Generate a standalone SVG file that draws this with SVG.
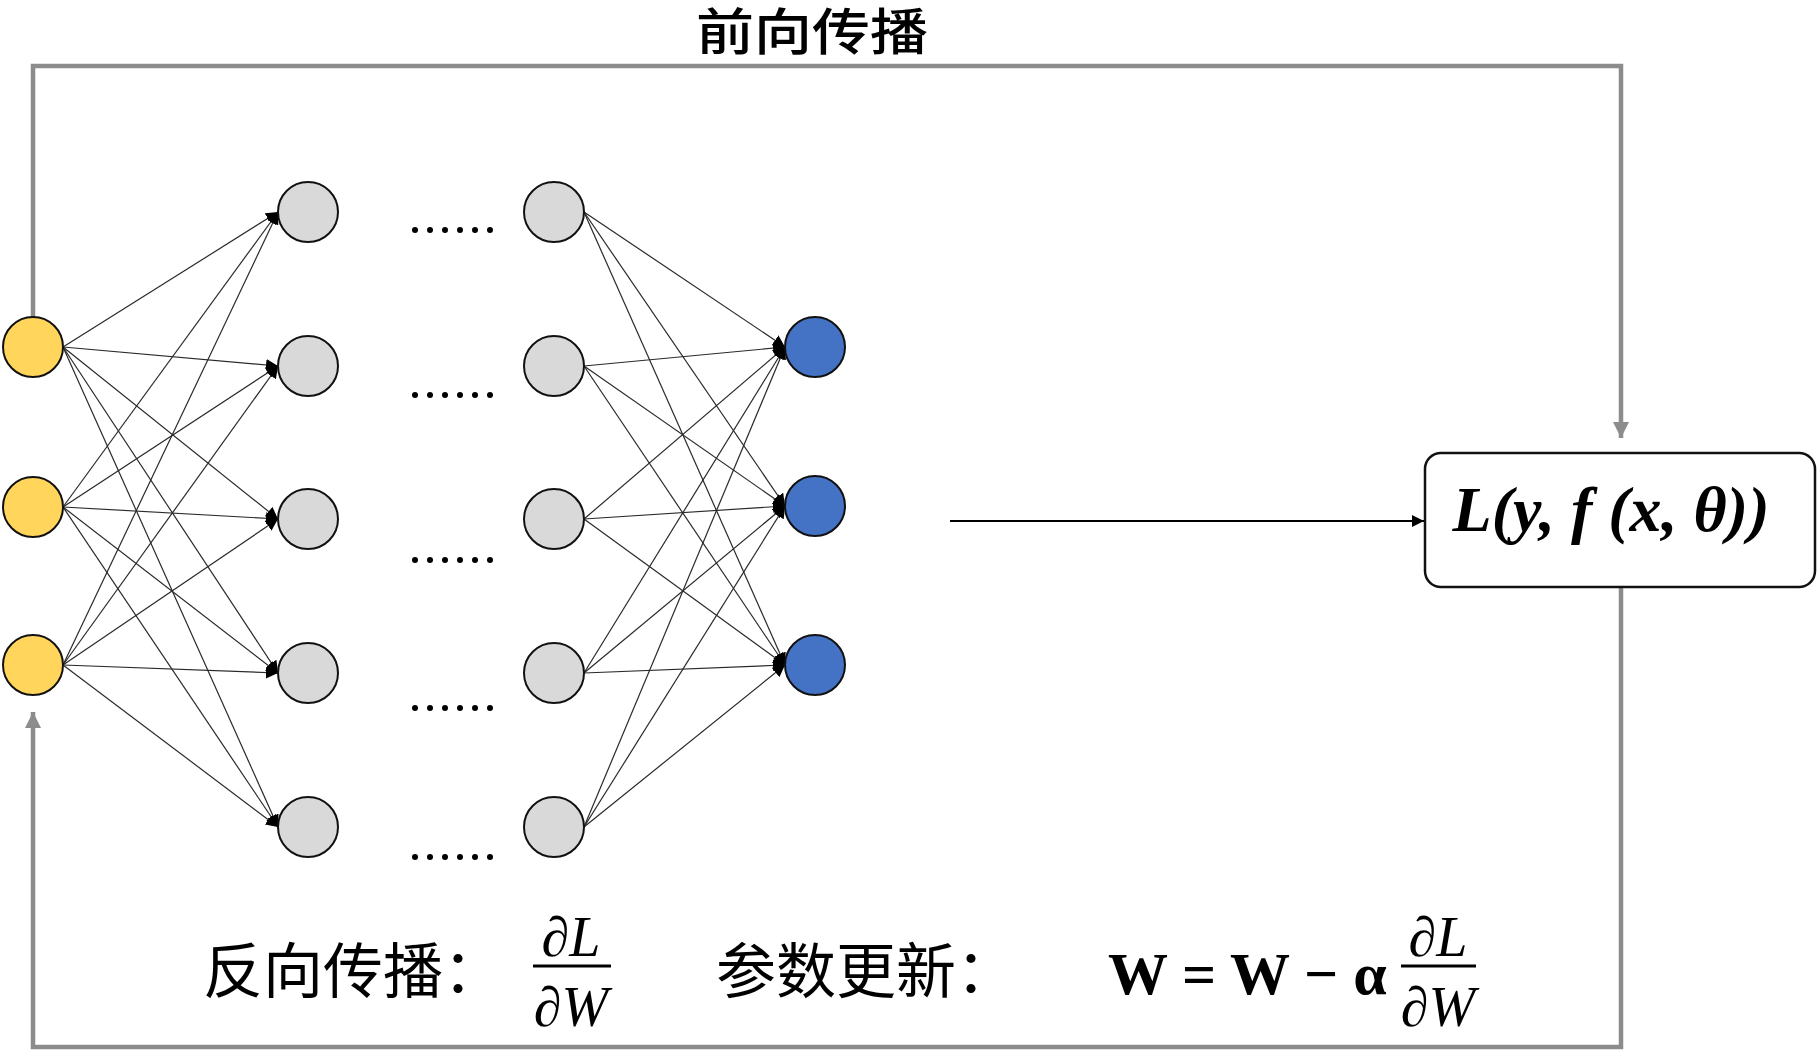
<svg xmlns="http://www.w3.org/2000/svg" width="1819" height="1052" viewBox="0 0 1819 1052">
<style>
.y{fill:#FFD65B;stroke:#111;stroke-width:2}
.g{fill:#D9D9D9;stroke:#111;stroke-width:2}
.b{fill:#4472C4;stroke:#111;stroke-width:2}
.e{stroke:#2a2a2a;stroke-width:1.2;fill:none;marker-end:url(#ah)}
.fr{stroke:#8C8C8C;stroke-width:4.5;fill:none}
.cjk{font-family:"Noto Sans CJK SC","Noto Sans",sans-serif;fill:#000}
.m{font-family:"Liberation Serif",serif;fill:#000}
.dot{fill:#000}
</style>
<defs>
<marker id="ah" markerUnits="userSpaceOnUse" markerWidth="14" markerHeight="12" refX="12" refY="6" orient="auto"><path d="M0,0 L12,6 L0,12 z" fill="#000"/></marker>
<marker id="ahg" markerUnits="userSpaceOnUse" markerWidth="18" markerHeight="16" refX="16" refY="8" orient="auto"><path d="M0,0 L16,8 L0,16 z" fill="#8C8C8C"/></marker>
<marker id="ahk" markerUnits="userSpaceOnUse" markerWidth="14" markerHeight="12" refX="12" refY="6" orient="auto"><path d="M0,0 L12,6 L0,12 z" fill="#000"/></marker>
</defs>
<g id="connectors">
<path class="fr" d="M33,317 V66 H1621 V438" marker-end="url(#ahg)"/>
<path class="fr" d="M1621,588 V1047 H33 V712" marker-end="url(#ahg)"/>
<path d="M950,521 H1424" stroke="#000" stroke-width="2" fill="none" marker-end="url(#ahk)"/>
<g id="edges-in">
<path class="e" d="M63,347 L278,212"/><path class="e" d="M63,347 L278,366"/><path class="e" d="M63,347 L278,519"/><path class="e" d="M63,347 L278,673"/><path class="e" d="M63,347 L278,827"/>
<path class="e" d="M63,507 L278,212"/><path class="e" d="M63,507 L278,366"/><path class="e" d="M63,507 L278,519"/><path class="e" d="M63,507 L278,673"/><path class="e" d="M63,507 L278,827"/>
<path class="e" d="M63,665 L278,212"/><path class="e" d="M63,665 L278,366"/><path class="e" d="M63,665 L278,519"/><path class="e" d="M63,665 L278,673"/><path class="e" d="M63,665 L278,827"/>
</g>
<g id="edges-out">
<path class="e" d="M584,212 L785,347"/><path class="e" d="M584,212 L785,506"/><path class="e" d="M584,212 L785,665"/>
<path class="e" d="M584,366 L785,347"/><path class="e" d="M584,366 L785,506"/><path class="e" d="M584,366 L785,665"/>
<path class="e" d="M584,519 L785,347"/><path class="e" d="M584,519 L785,506"/><path class="e" d="M584,519 L785,665"/>
<path class="e" d="M584,673 L785,347"/><path class="e" d="M584,673 L785,506"/><path class="e" d="M584,673 L785,665"/>
<path class="e" d="M584,827 L785,347"/><path class="e" d="M584,827 L785,506"/><path class="e" d="M584,827 L785,665"/>
</g>
</g>
<g id="input-layer">
<circle id="x1" class="y" cx="33" cy="347" r="30"/>
<circle id="x2" class="y" cx="33" cy="507" r="30"/>
<circle id="x3" class="y" cx="33" cy="665" r="30"/>
</g>
<g id="hidden-layer-1">
<circle id="h11" class="g" cx="308" cy="212" r="30"/>
<circle id="h12" class="g" cx="308" cy="366" r="30"/>
<circle id="h13" class="g" cx="308" cy="519" r="30"/>
<circle id="h14" class="g" cx="308" cy="673" r="30"/>
<circle id="h15" class="g" cx="308" cy="827" r="30"/>
</g>
<g id="ellipsis">
<g id="dots1"><circle class="dot" cx="415" cy="230" r="3"/><circle class="dot" cx="430" cy="230" r="3"/><circle class="dot" cx="445" cy="230" r="3"/><circle class="dot" cx="460" cy="230" r="3"/><circle class="dot" cx="475" cy="230" r="3"/><circle class="dot" cx="490" cy="230" r="3"/></g>
<g id="dots2"><circle class="dot" cx="415" cy="395" r="3"/><circle class="dot" cx="430" cy="395" r="3"/><circle class="dot" cx="445" cy="395" r="3"/><circle class="dot" cx="460" cy="395" r="3"/><circle class="dot" cx="475" cy="395" r="3"/><circle class="dot" cx="490" cy="395" r="3"/></g>
<g id="dots3"><circle class="dot" cx="415" cy="560" r="3"/><circle class="dot" cx="430" cy="560" r="3"/><circle class="dot" cx="445" cy="560" r="3"/><circle class="dot" cx="460" cy="560" r="3"/><circle class="dot" cx="475" cy="560" r="3"/><circle class="dot" cx="490" cy="560" r="3"/></g>
<g id="dots4"><circle class="dot" cx="415" cy="708" r="3"/><circle class="dot" cx="430" cy="708" r="3"/><circle class="dot" cx="445" cy="708" r="3"/><circle class="dot" cx="460" cy="708" r="3"/><circle class="dot" cx="475" cy="708" r="3"/><circle class="dot" cx="490" cy="708" r="3"/></g>
<g id="dots5"><circle class="dot" cx="415" cy="857" r="3"/><circle class="dot" cx="430" cy="857" r="3"/><circle class="dot" cx="445" cy="857" r="3"/><circle class="dot" cx="460" cy="857" r="3"/><circle class="dot" cx="475" cy="857" r="3"/><circle class="dot" cx="490" cy="857" r="3"/></g>
</g>
<g id="hidden-layer-n">
<circle id="h21" class="g" cx="554" cy="212" r="30"/>
<circle id="h22" class="g" cx="554" cy="366" r="30"/>
<circle id="h23" class="g" cx="554" cy="519" r="30"/>
<circle id="h24" class="g" cx="554" cy="673" r="30"/>
<circle id="h25" class="g" cx="554" cy="827" r="30"/>
</g>
<g id="output-layer">
<circle id="o1" class="b" cx="815" cy="347" r="30"/>
<circle id="o2" class="b" cx="815" cy="506" r="30"/>
<circle id="o3" class="b" cx="815" cy="665" r="30"/>
</g>
<g id="loss">
<rect x="1425" y="453" width="390" height="134" rx="16" fill="#fff" stroke="#111" stroke-width="2.5"/>
<text class="m" x="1611" y="531" font-size="64" font-style="italic" font-weight="bold" text-anchor="middle">L(y, f (x, θ))</text>
</g>
<g id="title-forward">
<text class="cjk" transform="translate(812,50) scale(1.16,1)" x="0" y="0" font-size="50" font-weight="500" text-anchor="middle">前向传播</text>
</g>
<g id="backprop-label">
<text class="cjk" x="203" y="993" font-size="60">反向传播：</text>
<text class="m" x="571" y="956" font-size="56" font-style="italic" text-anchor="middle">∂L</text>
<line x1="533" y1="966" x2="611" y2="966" stroke="#000" stroke-width="3"/>
<text class="m" x="571" y="1026" font-size="56" font-style="italic" text-anchor="middle">∂W</text>
</g>
<g id="update-label">
<text class="cjk" x="716" y="993" font-size="60">参数更新：</text>
<text class="m" x="1108" y="994" font-size="60" font-weight="bold">W = W − α</text>
<text class="m" x="1438" y="956" font-size="56" font-style="italic" text-anchor="middle">∂L</text>
<line x1="1401" y1="966" x2="1476" y2="966" stroke="#000" stroke-width="3"/>
<text class="m" x="1438" y="1026" font-size="56" font-style="italic" text-anchor="middle">∂W</text>
</g>
</svg>
